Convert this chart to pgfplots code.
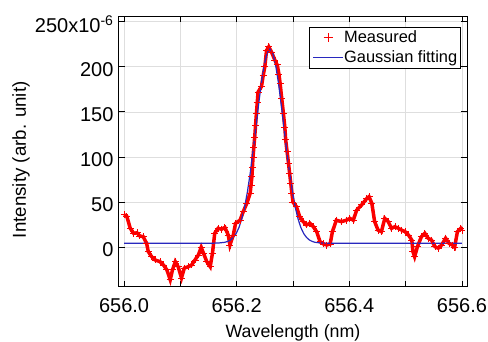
\documentclass[border=0pt]{standalone}
\usepackage{fontspec}
\setmainfont{Liberation Sans}
\usepackage{pgfplots}
\pgfplotsset{compat=1.18}
\definecolor{fitblue}{RGB}{40,40,190}
\definecolor{gridgray}{RGB}{222,222,222}
\definecolor{measred}{RGB}{250,0,0}
\pgfplotsset{markleg/.style={legend image code/.code={\path[draw=none] (0pt,0pt) -- (30pt,0pt); \draw[##1, measred, mark size=4.5pt, mark options={measred, line width=0.8pt}] plot coordinates {(15pt,0pt)};}}}
\pgfplotstableread{
x y
656.000 36
656.005 34
656.011 21
656.017 15.5
656.023 16
656.028 12.5
656.034 11.7
656.040 4.4
656.043 -4.8
656.049 -10.4
656.055 -14
656.064 -16
656.070 -19.6
656.076 -25
656.082 -36
656.086 -25
656.091 -16
656.096 -21.5
656.102 -34
656.107 -23
656.114 -21.5
656.120 -19.6
656.126 -14
656.132 -8.5
656.137 0
656.141 -6.6
656.147 -16
656.153 -21.5
656.157 -6.6
656.161 15.5
656.167 21
656.173 20
656.179 22
656.185 13.6
656.188 2.5
656.194 13.6
656.198 26.6
656.206 30
656.212 40
656.218 48.7
656.224 60
656.2255 69
656.227 78
656.228 89
656.229 100
656.2305 111
656.232 122
656.2335 135
656.235 148
656.2365 160
656.238 172
656.244 178
656.247 190
656.250 200
656.253 218
656.257 222
656.262 216
656.268 207
656.272 202
656.275 192
656.277 182
656.280 165
656.283 148
656.2855 133
656.287 119
656.2895 106
656.292 93
656.294 82
656.296 71
656.298 60
656.300 50
656.306 45
656.312 34
656.318 28.4
656.324 24.7
656.330 26.6
656.336 22.8
656.342 17.3
656.348 6.2
656.354 3.7
656.360 2.5
656.366 3.7
656.370 17.3
656.377 30
656.386 28.4
656.395 30
656.401 32
656.407 30
656.413 41
656.422 47
656.431 54
656.435 56
656.440 48.7
656.445 28.4
656.451 19
656.457 17.3
656.463 32
656.469 28.4
656.475 21
656.481 22.8
656.487 21
656.493 19
656.499 17.3
656.505 13.6
656.511 8
656.513 -4.8
656.516 -10.4
656.521 0.7
656.528 11.7
656.534 15.5
656.540 10
656.546 8
656.552 0.7
656.558 -1
656.564 2.5
656.571 10
656.577 4.4
656.583 2.5
656.587 0
656.592 17.3
656.598 21
656.600 19
}\measured
\pgfplotstableread{
x y
656.000 4.5
656.100 4.5
656.139 4.5
656.159 4.55
656.169 4.8
656.179 5.5
656.184 6.5
656.189 8.1
656.194 10.9
656.199 15.2
656.204 21.8
656.209 31.3
656.214 44.3
656.219 61.2
656.224 82.0
656.229 106.1
656.234 132.3
656.239 158.6
656.244 182.8
656.249 202.3
656.254 215.1
656.259 219.5
656.264 215.1
656.269 202.3
656.274 182.8
656.279 158.6
656.284 132.3
656.289 106.1
656.294 82.0
656.299 61.2
656.304 44.3
656.309 31.3
656.314 21.8
656.319 15.2
656.324 10.9
656.329 8.1
656.334 6.5
656.339 5.5
656.349 4.8
656.359 4.55
656.379 4.5
656.600 4.5
}\gaussfit
\begin{document}
\begin{tikzpicture}
\useasboundingbox (-119pt,-55pt) rectangle (369pt,287pt);
\begin{axis}[
  at={(0pt,0pt)}, anchor=south west,
  scale only axis, width=348pt, height=270.5pt,
  xmin=655.991, xmax=656.609, ymin=-44, ymax=255.6,
  xtick={656.0,656.1,656.2,656.3,656.4,656.5,656.6},
  xticklabels={656.0,,656.2,,656.4,,656.6},
  ytick={0,50,100,150,200,250},
  yticklabels={0,50,100,150,200,{250x10\textsuperscript{-6}}},
  tick align=inside, major tick length=6pt,
  tick style={black, line width=0.8pt},
  axis line style={black, line width=1pt},
  grid=major, major grid style={gridgray, line width=0.6pt},
  ticklabel style={font=\fontsize{20}{24}\selectfont},
  xticklabel style={yshift=-8pt},
  yticklabel style={yshift=-2.5pt, xshift=-2pt},
  xlabel={Wavelength (nm)}, ylabel={Intensity (arb. unit)},
  xlabel style={font=\fontsize{17.8}{21}\selectfont, at={([yshift=-51pt]axis description cs:0.5,0)}, anchor=base},
  ylabel style={font=\fontsize{18.7}{22}\selectfont, at={([xshift=-93pt,yshift=-8pt]axis description cs:0,0.5)}, anchor=base},
  legend style={at={(0.983,0.962)}, anchor=north east,
    draw=black, line width=0.8pt, font=\fontsize{16.4}{18}\selectfont,
    inner xsep=3pt, inner ysep=3pt, row sep=5pt,
    nodes={inner sep=0.5pt, text depth=0.2em}},
  legend cell align=left,
  legend image code/.code={\draw[#1] (0pt,0pt) -- (30pt,0pt);},
]
\addplot[measred, line width=3.5pt, forget plot] table {\measured};
\addplot[draw=measred, color=measred, only marks, mark=+, mark size=3.5pt, mark options={measred, line width=0.8pt}, markleg]
  table {\measured};
\addlegendentry{Measured}
\addplot[fitblue, line width=1.2pt] table {\gaussfit};
\addlegendentry{Gaussian fitting}
\end{axis}
\end{tikzpicture}
\end{document}
